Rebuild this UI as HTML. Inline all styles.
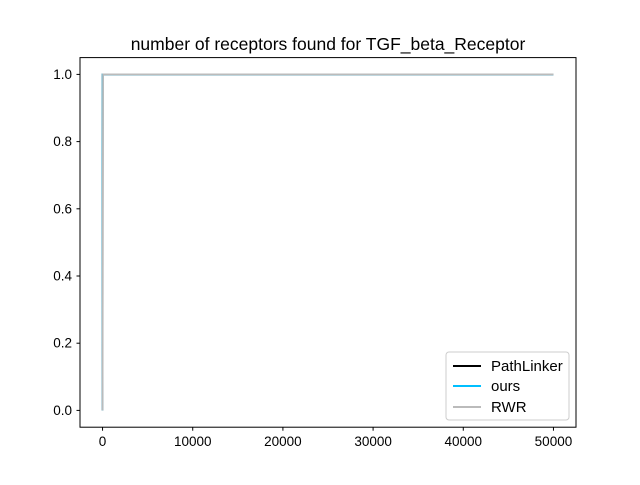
<!DOCTYPE html>
<html><head><meta charset="utf-8"><style>
body{margin:0;background:#fff}
svg text{font-family:"Liberation Sans","DejaVu Sans",sans-serif;fill:#000}
</style></head><body>
<svg id="chart" width="640" height="480" xmlns="http://www.w3.org/2000/svg">
<rect width="640" height="480" fill="#fff"/>
<text x="328" y="50" font-size="17.5" text-anchor="middle">number of receptors found for TGF_beta_Receptor</text>
<g id="series"></g>
<g id="axes"></g>
<rect x="80" y="57.6" width="496" height="369.6" fill="none" stroke="#000" stroke-width="1"/>
<g>
<rect x="446" y="352" width="123" height="68" rx="3" fill="#fff" fill-opacity="0.8" stroke="#ccc"/>
<line x1="453" y1="366" x2="481" y2="366" stroke="#000" stroke-width="2"/>
<text x="491" y="371" font-size="15">PathLinker</text>
<line x1="453" y1="386" x2="481" y2="386" stroke="#00bfff" stroke-width="2"/>
<text x="491" y="391" font-size="15">ours</text>
<line x1="453" y1="407" x2="481" y2="407" stroke="#bbbbbb" stroke-width="2"/>
<text x="491" y="412" font-size="15">RWR</text>
</g>
</svg>
<script>
const xTicks=[0,10000,20000,30000,40000,50000];
const yTicks=[0.0,0.2,0.4,0.6,0.8,1.0];
const plX=[0,5,10,15,20,50000];
const plY=[0,0.2,0.6,0.8,1,1];
const oursX=[0,5,10,15,20,50000];
const oursY=[0,0.4,0.8,0.8,1,1];
const rwrX=[0,10,20,30,60,2000,50000];
const rwrY=[0,0.2,0.4,0.6,1,1,1];
const NS="http://www.w3.org/2000/svg";
function sx(v){return 80+(v+2500)/55000*496;}
function sy(v){return 427.2-(v+0.05)/1.1*369.6;}
const ax=document.getElementById('axes');
xTicks.forEach(t=>{
 const l=document.createElementNS(NS,'line');
 l.setAttribute('x1',sx(t));l.setAttribute('x2',sx(t));l.setAttribute('y1',427.2);l.setAttribute('y2',430.7);l.setAttribute('stroke','#000');
 
 
 ax.appendChild(l);
 const tx=document.createElementNS(NS,'text');
 tx.setAttribute('x',sx(t));tx.setAttribute('y',446);tx.setAttribute('font-size','13.5');tx.setAttribute('text-anchor','middle');
 tx.textContent=String(t);
 
 
 ax.appendChild(tx);
});
yTicks.forEach(t=>{
 const l=document.createElementNS(NS,'line');
 l.setAttribute('x1',76.5);l.setAttribute('x2',80);l.setAttribute('y1',sy(t));l.setAttribute('y2',sy(t));l.setAttribute('stroke','#000');
 
 
 ax.appendChild(l);
 const tx=document.createElementNS(NS,'text');
 tx.setAttribute('x',72);tx.setAttribute('y',sy(t)+4.5);tx.setAttribute('font-size','13.5');tx.setAttribute('text-anchor','end');
 tx.textContent=t.toFixed(1);
 
 
 ax.appendChild(tx);
});
const sg=document.getElementById('series');
function draw(xs,ys,color,name){
 const p=document.createElementNS(NS,'polyline');
 p.setAttribute('points',xs.map((x,i)=>sx(x)+','+sy(ys[i])).join(' '));
 p.setAttribute('fill','none');p.setAttribute('stroke',color);p.setAttribute('stroke-width','1.8');
 
 
 sg.appendChild(p);
}
draw(plX,plY,'#000','pathlinker-line');
draw(oursX,oursY,'#00bfff','ours-line');
draw(rwrX,rwrY,'#bbbbbb','rwr-line');
</script>
</body></html>
